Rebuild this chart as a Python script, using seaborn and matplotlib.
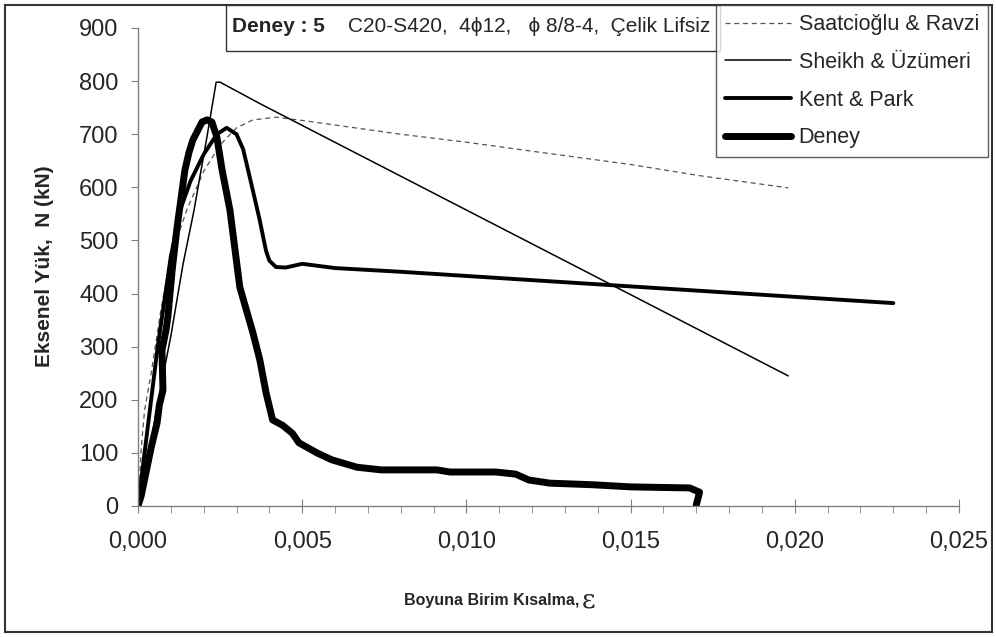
import matplotlib
matplotlib.use("Agg")
import matplotlib.pyplot as plt
import seaborn as sns
import pandas as pd
import numpy as np
from matplotlib.ticker import FuncFormatter, MultipleLocator
from matplotlib.patches import Rectangle
from matplotlib.lines import Line2D

# ---- data ----
sr_x = [0, 0.0001, 0.0002, 0.0004, 0.0007, 0.0010, 0.0015, 0.0020, 0.0025, 0.0030,
        0.0035, 0.0042, 0.0050, 0.0080, 0.0100, 0.0120, 0.0150, 0.0171, 0.0198]
sr_y = [0, 110, 180, 250, 370, 470, 560, 630, 680, 712,
        727, 732, 726, 700, 685, 668, 643, 622, 599]

su_x = [0, 0.0004, 0.0007, 0.0010, 0.00137, 0.0017, 0.0021, 0.00238, 0.0025, 0.0037, 0.0198]
su_y = [0, 125, 225, 320, 455, 555, 695, 798, 798, 758, 245]

kp_x = [0, 0.0003, 0.0006, 0.0010, 0.0013, 0.0016, 0.0020, 0.0024, 0.0027, 0.0030,
        0.0032, 0.0034, 0.0037, 0.0039, 0.0040, 0.0042, 0.0045, 0.0050, 0.0060, 0.0080, 0.0230]
kp_y = [0, 150, 300, 470, 560, 612, 662, 700, 712, 700,
        672, 620, 540, 480, 462, 450, 449, 456, 448, 441, 382]

dn_x = [0, 0.0001, 0.0002, 0.0003, 0.0004, 0.00058, 0.00065, 0.00076, 0.00073, 0.00085,
        0.00091, 0.00104, 0.00119, 0.00143, 0.00155, 0.00167, 0.00195, 0.0021, 0.00225,
        0.0024, 0.00256, 0.0028, 0.0031, 0.0035, 0.00371, 0.0039, 0.0041, 0.0044,
        0.0047, 0.0049, 0.00545, 0.0059, 0.00667, 0.0074, 0.0091, 0.0095, 0.0109,
        0.0115, 0.0119, 0.01254, 0.01385, 0.0150, 0.0168, 0.0171, 0.0170]
dn_y = [0, 20, 50, 80, 110, 156, 190, 218, 294, 330,
        356, 444, 525, 633, 665, 689, 723, 727, 723,
        695, 633, 557, 412, 326, 275, 213, 162, 152,
        137, 119, 100, 87, 73, 68, 68, 64, 64,
        60, 49, 43, 40, 36, 34, 26, 2]

labels = ["Saatcioğlu & Ravzi", "Sheikh & Üzümeri", "Kent & Park", "Deney"]
xticks = [0, 0.005, 0.010, 0.015, 0.020, 0.025]
yticks = [0, 100, 200, 300, 400, 500, 600, 700, 800, 900]

sns.set_style("ticks")
plt.rcParams['font.family'] = ['Liberation Sans', 'DejaVu Sans']

fig = plt.figure(figsize=(9.96, 6.37), dpi=100)
ax = fig.add_axes([138/996, 1-506/637, (959-138)/996, (506-28)/637])

series = [(sr_x, sr_y, dict(color="#555555", lw=0.9, ls=(0, (4, 3)))),
          (su_x, su_y, dict(color="black", lw=1.1, ls="-")),
          (kp_x, kp_y, dict(color="black", lw=2.8, ls="-")),
          (dn_x, dn_y, dict(color="black", lw=5.0, ls="-"))]
for (xs, ys, st), lab in zip(series, labels):
    df = pd.DataFrame({"x": xs, "y": ys})
    sns.lineplot(data=df, x="x", y="y", sort=False, estimator=None, ax=ax,
                 color=st["color"], linewidth=st["lw"], linestyle=st["ls"], legend=False)

ax.set_xlim(0, 0.025)
ax.set_ylim(0, 900)
ax.set_xticks(xticks)
ax.set_yticks(yticks)
ax.xaxis.set_minor_locator(MultipleLocator(0.001))
ax.xaxis.set_major_formatter(FuncFormatter(lambda v, p: f"{v:.3f}".replace(".", ",")))
ax.yaxis.set_major_formatter(FuncFormatter(lambda v, p: f"{int(round(v))}"))
for s in ["top", "right"]:
    ax.spines[s].set_visible(False)
for s in ["left", "bottom"]:
    ax.spines[s].set_color("#808080")
    ax.spines[s].set_linewidth(1.0)
ax.tick_params(axis="x", which="major", direction="inout", length=10, color="#808080",
               labelsize=17, pad=13)
ax.tick_params(axis="x", which="minor", direction="out", length=5, color="#808080")
ax.tick_params(axis="y", which="major", direction="out", length=5, color="#808080",
               labelsize=17, pad=9)
ax.set_xlabel("")
ax.set_ylabel("")

xl = fig.text(404/996, 1-601/637, "Boyuna Birim Kısalma,", fontsize=11.5, fontweight="bold",
              ha="left", va="center")
fig.text(582/996, 1-600/637, "ε", fontsize=19, ha="left", va="center", family=["DejaVu Serif"])
fig.text(44/996, 1-266/637, "Eksenel Yük,  N (kN)", fontsize=15, fontweight="bold",
         rotation=90, ha="center", va="center")

# figure border
fig.patches.append(Rectangle((5/996, 5/637), 987/996, 627/637, transform=fig.transFigure,
                             fill=False, edgecolor="#333333", lw=1.5))
# title box
fig.patches.append(Rectangle((226/996, 1-51/637), (720-226)/996, 46/637, transform=fig.transFigure,
                             facecolor="white", edgecolor="#333333", lw=1.0, zorder=3))
fig.text(232/996, 1-27/637, "Deney : 5", fontsize=15, fontweight="bold", ha="left", va="center", zorder=4)
fig.text(348/996, 1-27/637, "C20-S420,  4ϕ12,   ϕ 8/8-4,  Çelik Lifsiz", fontsize=15,
         ha="left", va="center", zorder=4)

handles = [Line2D([], [], color=st["color"], lw=st["lw"], ls=st["ls"]) for _, _, st in series]
leg = fig.legend(handles, labels, loc="upper right", bbox_to_anchor=(988/996, 1-5/637),
                 fontsize=15.5, frameon=True, fancybox=False, handlelength=3.05,
                 handletextpad=0.37, labelspacing=0.78, borderpad=0.42, borderaxespad=0)
leg.get_frame().set_edgecolor("#333333")
leg.get_frame().set_linewidth(1.0)
leg.set_zorder(5)

fig.savefig("out.png", dpi=100)
